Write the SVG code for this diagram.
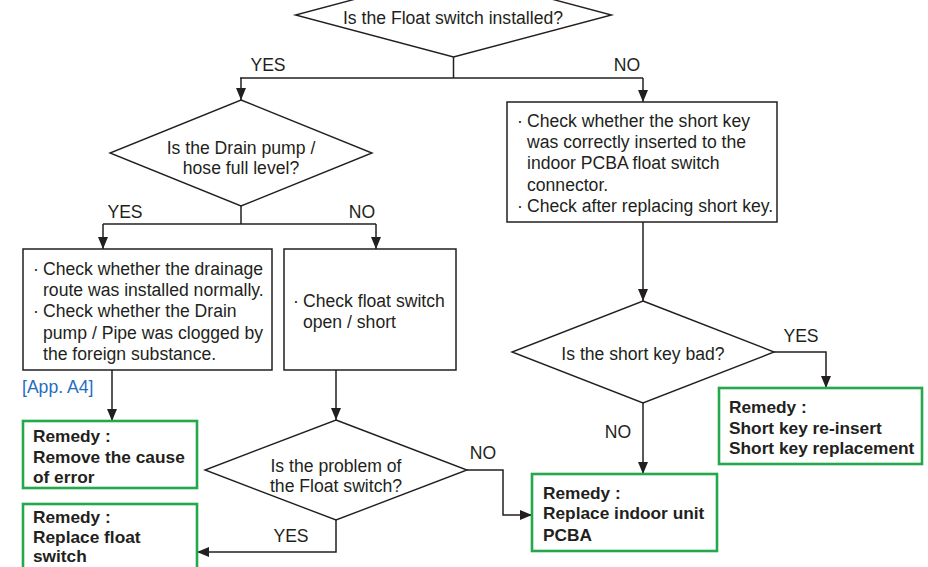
<svg xmlns="http://www.w3.org/2000/svg" width="928" height="567" viewBox="0 0 928 567">
<style>
text{font-family:"Liberation Sans",Arial,Helvetica,sans-serif;font-size:17.6px;fill:#231f20}
.b{font-weight:bold;font-size:17.3px}
.c{text-anchor:middle}
.blue{fill:#1f6dbf}
.box{fill:#fff;stroke:#231f20;stroke-width:1.5}
.rem{fill:#fff;stroke:#23a84b;stroke-width:2.6}
.dia{fill:#fff;stroke:#231f20;stroke-width:1.4}
.con{fill:none;stroke:#231f20;stroke-width:1.5}
</style>
<defs>
<marker id="ah" viewBox="0 0 12 10" refX="12" refY="5" markerWidth="12" markerHeight="10" markerUnits="userSpaceOnUse" orient="auto">
<path d="M0,0 L12,5 L0,10 z" fill="#231f20"/>
</marker>
</defs>
<rect width="928" height="567" fill="#fff"/>

<g id="connectors">
<polyline class="con" points="453.5,57 453.5,78"/>
<polyline class="con" points="240,78 643,78"/>
<polyline class="con" points="241,78 241,100" marker-end="url(#ah)"/>
<polyline class="con" points="643,78 643,102" marker-end="url(#ah)"/>
<polyline class="con" points="241,206 241,224"/>
<polyline class="con" points="103,224 376,224"/>
<polyline class="con" points="103,224 103,249" marker-end="url(#ah)"/>
<polyline class="con" points="376,224 376,249" marker-end="url(#ah)"/>
<polyline class="con" points="112,370 112,421" marker-end="url(#ah)"/>
<polyline class="con" points="336,370 336,420" marker-end="url(#ah)"/>
<polyline class="con" points="643,222 643,301" marker-end="url(#ah)"/>
<polyline class="con" points="774,352 826,352 826,388" marker-end="url(#ah)"/>
<polyline class="con" points="643,403 643,474" marker-end="url(#ah)"/>
<polyline class="con" points="467,470 503,470 503,515 532,515" marker-end="url(#ah)"/>
<polyline class="con" points="336,520 336,552 197,552" marker-end="url(#ah)"/>
<text x="268" y="71" class="c">YES</text>
<text x="627" y="71" class="c">NO</text>
<text x="125" y="218" class="c">YES</text>
<text x="362" y="218" class="c">NO</text>
<text x="801" y="342" class="c">YES</text>
<text x="618" y="438" class="c">NO</text>
<text x="483" y="459" class="c">NO</text>
<text x="291" y="542" class="c">YES</text>
</g>

<g id="d-float-installed">
<polygon class="dia" points="453.5,-27 611.5,15 453.5,57 295.5,15"/>
<text x="453" y="24" class="c">Is the Float switch installed?</text>
</g>

<g id="d-drain-full">
<polygon class="dia" points="241,100 372,153 241,206 110,153"/>
<text x="241" y="154" class="c">Is the Drain pump /</text>
<text x="241" y="174" class="c">hose full level?</text>
</g>

<g id="b-drainage">
<rect class="box" x="23" y="249" width="249" height="121"/>
<text x="33" y="275">·</text><text x="43" y="275">Check whether the drainage</text>
<text x="43" y="296">route was installed normally.</text>
<text x="33" y="317">·</text><text x="43" y="317">Check whether the Drain</text>
<text x="43" y="339">pump / Pipe was clogged by</text>
<text x="43" y="360">the foreign substance.</text>
</g>

<g id="app-a4">
<text x="22" y="393" class="blue">[App. A4]</text>
</g>

<g id="b-float-check">
<rect class="box" x="284" y="249" width="172" height="121"/>
<text x="293" y="307">·</text><text x="303" y="307">Check float switch</text>
<text x="303" y="328">open / short</text>
</g>

<g id="b-short-key">
<rect class="box" x="507" y="102" width="270" height="120"/>
<text x="517" y="127">·</text><text x="527" y="127">Check whether the short key</text>
<text x="527" y="148">was correctly inserted to the</text>
<text x="527" y="169">indoor PCBA float switch</text>
<text x="527" y="191">connector.</text>
<text x="517" y="212">·</text><text x="527" y="212">Check after replacing short key.</text>
</g>

<g id="d-short-bad">
<polygon class="dia" points="643,301 774,352 643,403 512,352"/>
<text x="643" y="360" class="c">Is the short key bad?</text>
</g>

<g id="r-short-key">
<rect class="rem" x="719" y="388" width="203" height="76"/>
<text x="729" y="413" class="b">Remedy :</text>
<text x="729" y="434" class="b">Short key re-insert</text>
<text x="729" y="454" class="b">Short key replacement</text>
</g>

<g id="r-pcba">
<rect class="rem" x="532" y="474" width="185" height="77"/>
<text x="543" y="499" class="b">Remedy :</text>
<text x="543" y="519" class="b">Replace indoor unit</text>
<text x="543" y="541" class="b">PCBA</text>
</g>

<g id="r-remove-cause">
<rect class="rem" x="23" y="421" width="174" height="67"/>
<text x="33" y="442" class="b">Remedy :</text>
<text x="33" y="463" class="b">Remove the cause</text>
<text x="33" y="483" class="b">of error</text>
</g>

<g id="d-float-problem">
<polygon class="dia" points="336,420 467,470 336,520 205,470"/>
<text x="336" y="472" class="c">Is the problem of</text>
<text x="336" y="492" class="c">the Float switch?</text>
</g>

<g id="r-replace-float">
<rect class="rem" x="23" y="504" width="174" height="80"/>
<text x="33" y="523" class="b">Remedy :</text>
<text x="33" y="543" class="b">Replace float</text>
<text x="33" y="562" class="b">switch</text>
</g>
</svg>
